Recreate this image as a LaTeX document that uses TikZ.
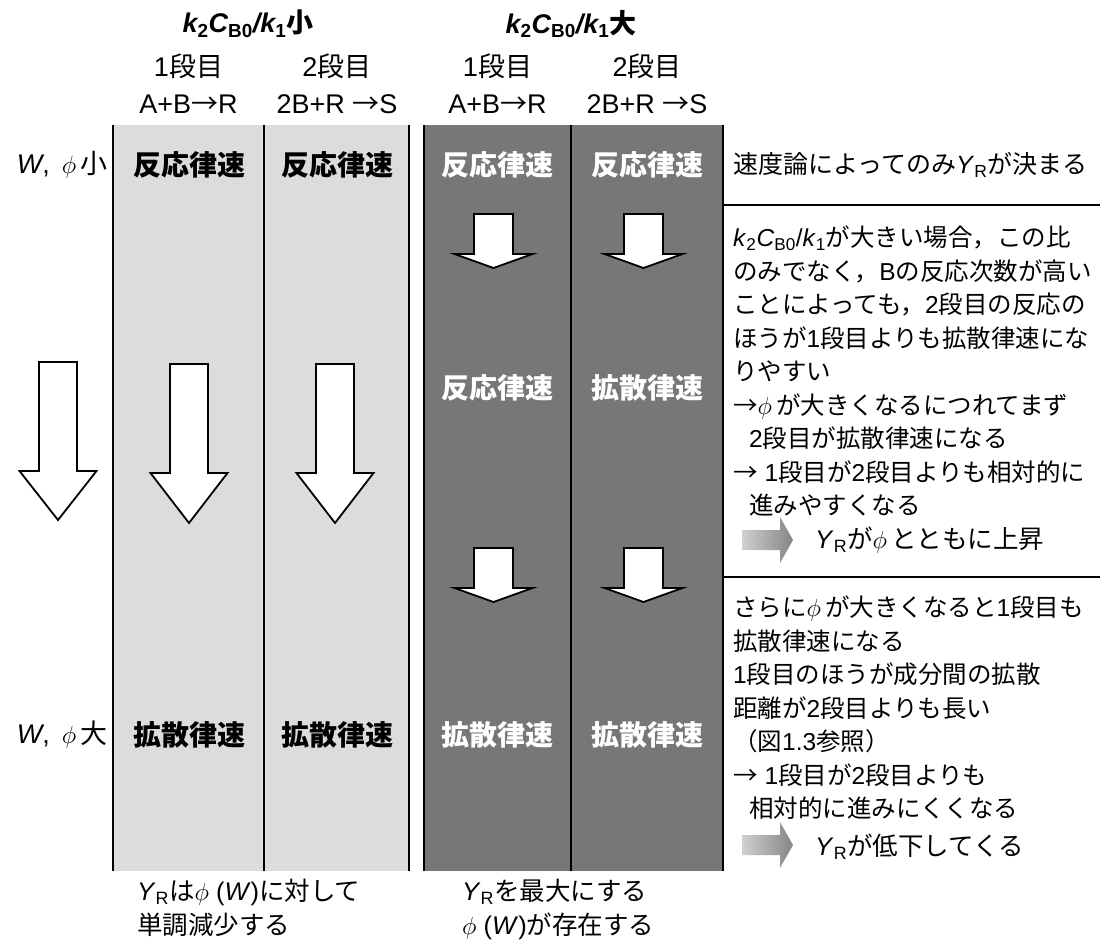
\documentclass[tikz,border=0pt]{standalone}
\usepackage{fontspec}
\setmainfont{Liberation Sans}
\newfontfamily\jp{Noto Sans CJK JP}
\newfontfamily\lat{Liberation Sans}
\XeTeXinterchartokenstate=1
\newXeTeXintercharclass\jpclass
\newcount\cc
\cc="3000 \loop\XeTeXcharclass\cc=\jpclass \advance\cc by 1 \ifnum\cc<"A000 \repeat
\cc="FF00 \loop\XeTeXcharclass\cc=\jpclass \advance\cc by 1 \ifnum\cc<"FFF0 \repeat
\cc="2190 \loop\XeTeXcharclass\cc=\jpclass \advance\cc by 1 \ifnum\cc<"2200 \repeat
\XeTeXinterchartoks 0 \jpclass={\jp}
\XeTeXinterchartoks 4095 \jpclass={\jp}
\XeTeXinterchartoks \jpclass 0={\lat}
\XeTeXinterchartoks \jpclass 4095={\lat}
\newcommand\sub[1]{\textsubscript{\upshape#1}}
\definecolor{lightp}{HTML}{DCDCDC}
\definecolor{darkp}{HTML}{777777}
\definecolor{gradL}{HTML}{D0D0D0}
\definecolor{gradR}{HTML}{858585}
\tikzset{
  sep/.style={line width=2,draw=black},
  hdr/.style={font=\fontsize{27}{30}\selectfont\bfseries\itshape,inner sep=0},
  colh/.style={font=\fontsize{27}{30}\selectfont,inner sep=0},
  rate/.style={font=\fontsize{28}{30}\selectfont\bfseries,inner sep=0},
  ratew/.style={rate,text=white},
  lbl/.style={font=\fontsize{27}{30}\selectfont,inner sep=0},
  res/.style={font=\fontsize{25.5}{30}\selectfont,inner sep=0},
  side/.style={font=\fontsize{25}{30}\selectfont,inner sep=0},
  note/.style={font=\fontsize{24.5}{33.5}\selectfont,inner sep=0,align=left,anchor=north west},
  foot/.style={font=\fontsize{25.5}{34}\selectfont,inner sep=0,align=left,anchor=north west},
  blk/.style={draw=black,line width=1.8,fill=white,line join=miter},
}
\newcommand\blockdown[7]{% name cx top shafthalf headhalf headbase tip
  \coordinate (#1) at (#2,#3);
  \draw[blk] ({#2-#4},#3) -- ({#2+#4},#3) -- ({#2+#4},#6) -- ({#2+#5},#6) -- (#2,#7) -- ({#2-#5},#6) -- ({#2-#4},#6) -- cycle;}
\newcommand\gradarrow[2]{% name cy
  \coordinate (#1) at (743,#2);
  \shade[left color=gradL,right color=gradR] (742,{#2-10}) -- (780,{#2-10}) -- (780,{#2-23}) -- (793,#2) -- (780,{#2+23}) -- (780,{#2+10}) -- (742,{#2+10}) -- cycle;}
\begin{document}
\begin{tikzpicture}[x=1pt,y=-1pt]
\useasboundingbox (0,0) rectangle (1113,949);
% panels
\fill[lightp] (113,125) rectangle (409,871);
\fill[darkp] (424,125) rectangle (723,871);
\foreach \xx in {113,264,409,424,571,723} \draw[sep] (\xx,125) -- (\xx,871);
\draw[sep] (723,205) -- (1100,205);
\draw[sep] (723,577) -- (1100,577);
% headers
\node[hdr] (t1) at (248,24) {k\sub{2}C\sub{B0}/k\sub{1}小};
\node[hdr] (t2) at (571,24) {k\sub{2}C\sub{B0}/k\sub{1}大};
\node[colh] (s11) at (188.5,66) {1段目};
\node[colh] (s12) at (337,66) {2段目};
\node[colh] (s21) at (497.5,66) {1段目};
\node[colh] (s22) at (647,66) {2段目};
\node[colh] (r11) at (188.5,104) {A+B→R};
\node[colh] (r12) at (337,104) {2B+R →S};
\node[colh] (r21) at (497.5,104) {A+B→R};
\node[colh] (r22) at (647,104) {2B+R →S};
% row labels
\node[lbl,anchor=east] (wsmall) at (108,165) {\textit{W}, \,$\phi$\,小};
\node[lbl,anchor=east] (wlarge) at (108,735) {\textit{W}, \,$\phi$\,大};
% row 1
\node[rate] (a1) at (189,165) {反応律速};
\node[rate] (a2) at (337,165) {反応律速};
\node[ratew] (a3) at (497.5,165) {反応律速};
\node[ratew] (a4) at (647,165) {反応律速};
% row 2
\node[ratew] (b3) at (497.5,388) {反応律速};
\node[ratew] (b4) at (647,388) {拡散律速};
% row 3
\node[rate] (c1) at (189,735) {拡散律速};
\node[rate] (c2) at (337,735) {拡散律速};
\node[ratew] (c3) at (497.5,735) {拡散律速};
\node[ratew] (c4) at (647,735) {拡散律速};
% arrows
\blockdown{A0}{58}{362}{19}{38.5}{471}{520}
\blockdown{A1}{189}{364}{19}{38.5}{473}{523}
\blockdown{A2}{335}{364}{19}{38.5}{473}{523}
\blockdown{D1}{493.5}{214}{19.5}{39}{254}{268}
\blockdown{D2}{643.5}{214}{19.5}{39}{254}{268}
\blockdown{D3}{493.5}{548}{19.5}{39}{588}{602}
\blockdown{D4}{643.5}{548}{19.5}{39}{588}{602}
% right notes
\node[side,anchor=west] (n0) at (733,165) {速度論によってのみ\textit{Y}\sub{R}が決まる};
\node[note] (n1) at (733,226) {\textit{k}\sub{2}\textit{C}\sub{B0}/\textit{k}\sub{1}が大きい場合，この比\\
のみでなく，Bの反応次数が高い\\
ことによっても，2段目の反応の\\
ほうが1段目よりも拡散律速にな\\
りやすい\\
→$\phi$\,が大きくなるにつれてまず\\
\hspace*{16pt}2段目が拡散律速になる\\
→ 1段目が2段目よりも相対的に\\
\hspace*{16pt}進みやすくなる};
\gradarrow{g1}{540}
\node[res,anchor=west] (n2) at (815,540) {\textit{Y}\sub{R}が$\phi$\,とともに上昇};
\node[note] (n3) at (733,596) {さらに$\phi$\,が大きくなると1段目も\\
拡散律速になる\\
1段目のほうが成分間の拡散\\
距離が2段目よりも長い\\
（図1.3参照）\\
→ 1段目が2段目よりも\\
\hspace*{16pt}相対的に進みにくくなる};
\gradarrow{g2}{845}
\node[res,anchor=west] (n4) at (815,847) {\textit{Y}\sub{R}が低下してくる};
% bottom
\node[foot] (f1) at (137,879) {\textit{Y}\sub{R}は$\phi$ (\textit{W})に対して\\単調減少する};
\node[foot] (f2) at (462,879) {\textit{Y}\sub{R}を最大にする\\$\phi$ (\textit{W})が存在する};
\end{tikzpicture}
\end{document}
